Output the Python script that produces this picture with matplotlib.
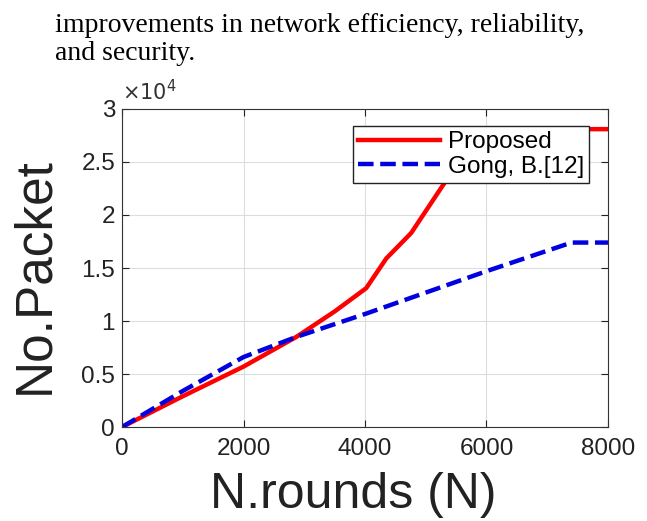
import matplotlib.pyplot as plt

# Proposed
prop_x = [0, 1000, 2000, 2870, 3500, 4020, 4350, 4760, 5340, 5600, 5800, 8000]
prop_y = [0, 2900, 5700, 8500, 10900, 13100, 15900, 18300, 23300, 26000, 28100, 28100]

# Gong, B.[12]
gong_x = [0, 1000, 2000, 2870, 4020, 6000, 7400, 8000]
gong_y = [0, 3400, 6600, 8500, 10700, 14700, 17400, 17400]

xticks = [0, 2000, 4000, 6000, 8000]
yticks = [0, 5000, 10000, 15000, 20000, 25000, 30000]
ytick_labels = ['0', '0.5', '1', '1.5', '2', '2.5', '3']

fig = plt.figure(figsize=(6.47, 5.21), dpi=100)
ax = fig.add_axes([0.1886, 0.1804, 0.7511, 0.6104])

ax.plot(prop_x, prop_y, color='#ff0000', lw=3.2, label='Proposed')
ax.plot(gong_x, gong_y, color='#0000e0', lw=3.2, ls=(0, (3.5, 1.5)), label='Gong, B.[12]')

ax.set_xlim(0, 8000)
ax.set_ylim(0, 30000)
ax.set_xticks(xticks)
ax.set_yticks(yticks)
ax.set_yticklabels(ytick_labels)
ax.tick_params(direction='in', labelsize=17.5, length=5, top=True, right=True, colors='#222222')
ax.tick_params(axis='x', pad=8)
ax.tick_params(axis='y', pad=5)
ax.grid(True, color='#dddddd', lw=0.8)
for s in ax.spines.values():
    s.set_color('#333333')
for lbl in ax.get_xticklabels() + ax.get_yticklabels():
    lbl.set_family('Liberation Sans')

ax.text(0.0, 1.015, r'$\times10^4$', transform=ax.transAxes, fontsize=15, color='#333333',
        family='Liberation Sans', va='bottom')

# axis labels placed in figure coordinates
fig.text(353 / 647, 1 - 495 / 521, 'N.rounds (N)', fontsize=36, family='Liberation Sans',
         ha='center', va='center', color='#222222')
fig.text(35 / 647, 1 - 276 / 521, 'No.Packet', fontsize=37, family='Liberation Sans',
         ha='center', va='center', rotation=90, color='#222222')

leg = ax.legend(loc='upper left', bbox_to_anchor=(0.475, 0.945),
                prop={'family': 'Liberation Sans', 'size': 17.5}, frameon=True, fancybox=False,
                borderpad=0.2, handlelength=3.4, handletextpad=0.3, labelspacing=0.1,
                borderaxespad=0)
leg.get_frame().set_edgecolor('#222222')
leg.get_frame().set_linewidth(1)
leg.get_frame().set_alpha(1)

fig.text(0.085, 0.975, 'improvements in network efficiency, reliability,\nand security.',
         fontsize=20, family='Liberation Serif', va='top', ha='left', linespacing=1.15)

fig.savefig('out.png', dpi=100)
